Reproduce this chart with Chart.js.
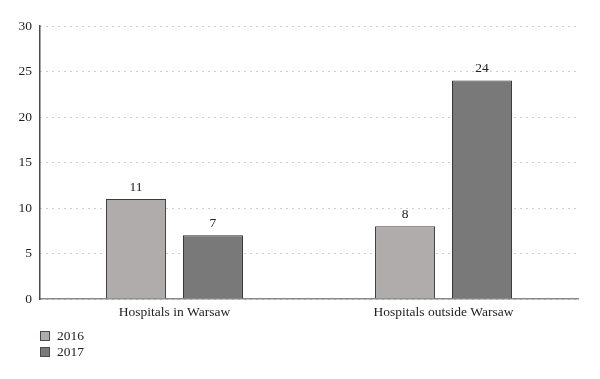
<!DOCTYPE html>
<html><head><meta charset="utf-8">
<script src="https://cdn.jsdelivr.net/npm/chart.js@4/dist/chart.umd.min.js"></script>
<style>html,body{margin:0;padding:0;background:#fff}#wrap{width:600px;height:379px}</style>
</head><body><div id="wrap"><canvas id="c" width="600" height="379"></canvas></div>
<script>
const categories = ["Hospitals in Warsaw", "Hospitals outside Warsaw"];
const series2016 = [11, 8];
const series2017 = [7, 24];
const seriesNames = ["2016", "2017"];
const yTicks = [0, 5, 10, 15, 20, 25, 30];

const FONT = "'Liberation Serif', 'Times New Roman', serif";
const colors = ["#b0acab", "#797979"];

const valueLabels = {
  id: 'valueLabels',
  afterDatasetsDraw(chart) {
    const ctx = chart.ctx;
    ctx.save();
    ctx.font = "13.5px " + FONT;
    ctx.fillStyle = "#222";
    ctx.textAlign = "center";
    ctx.textBaseline = "bottom";
    chart.data.datasets.forEach((ds, i) => {
      chart.getDatasetMeta(i).data.forEach((bar, j) => {
        ctx.fillText(String(ds.data[j]), bar.x, bar.y - 5);
      });
    });
    ctx.restore();
  }
};

const bottomLegend = {
  id: 'bottomLegend',
  afterDraw(chart) {
    const ctx = chart.ctx;
    const x0 = chart.chartArea.left;
    const y0 = chart.chartArea.bottom + 32;
    ctx.save();
    ctx.font = "13.5px " + FONT;
    ctx.textBaseline = "middle";
    ctx.textAlign = "left";
    chart.data.datasets.forEach((ds, i) => {
      const y = y0 + i * 16;
      ctx.fillStyle = ds.backgroundColor;
      ctx.fillRect(x0 + 0.5, y + 0.5, 9, 9);
      ctx.strokeStyle = "#4a4a4a";
      ctx.lineWidth = 1;
      ctx.strokeRect(x0 + 0.5, y + 0.5, 9, 9);
      ctx.fillStyle = "#222";
      ctx.fillText(ds.label, x0 + 17, y + 5.5);
    });
    ctx.restore();
  }
};

new Chart(document.getElementById('c'), {
  type: 'bar',
  data: {
    labels: categories,
    datasets: [
      { label: seriesNames[0], data: series2016, backgroundColor: colors[0], borderColor: "#3c3c3c", borderWidth: 1, categoryPercentage: 0.572, barPercentage: 0.78 },
      { label: seriesNames[1], data: series2017, backgroundColor: colors[1], borderColor: "#2e2e2e", borderWidth: 1, categoryPercentage: 0.572, barPercentage: 0.78 }
    ]
  },
  options: {
    responsive: false,
    animation: false,
    layout: { padding: { top: 26, right: 22, left: 0, bottom: 0 } },
    plugins: { legend: { display: false }, tooltip: { enabled: false } },
    scales: {
      x: {
        grid: { display: false, drawTicks: false },
        border: { color: "#8a8a8a", width: 1.5 },
        ticks: { color: "#222", font: { family: FONT, size: 13.5 }, padding: 5 },
        afterFit(s) { s.height = 80; }
      },
      y: {
        min: 0, max: 30,
        afterBuildTicks(s) { s.ticks = yTicks.map(v => ({ value: v })); },
        grid: { color: "#9a9a9a", lineWidth: 1, drawTicks: false },
        border: { color: "#4a4a4a", width: 1.5, dash: [1, 5] },
        ticks: { color: "#222", font: { family: FONT, size: 13.5 }, padding: 8 },
        afterFit(s) { s.width = 40; }
      }
    }
  },
  plugins: [valueLabels, bottomLegend]
});
</script>
</body></html>
